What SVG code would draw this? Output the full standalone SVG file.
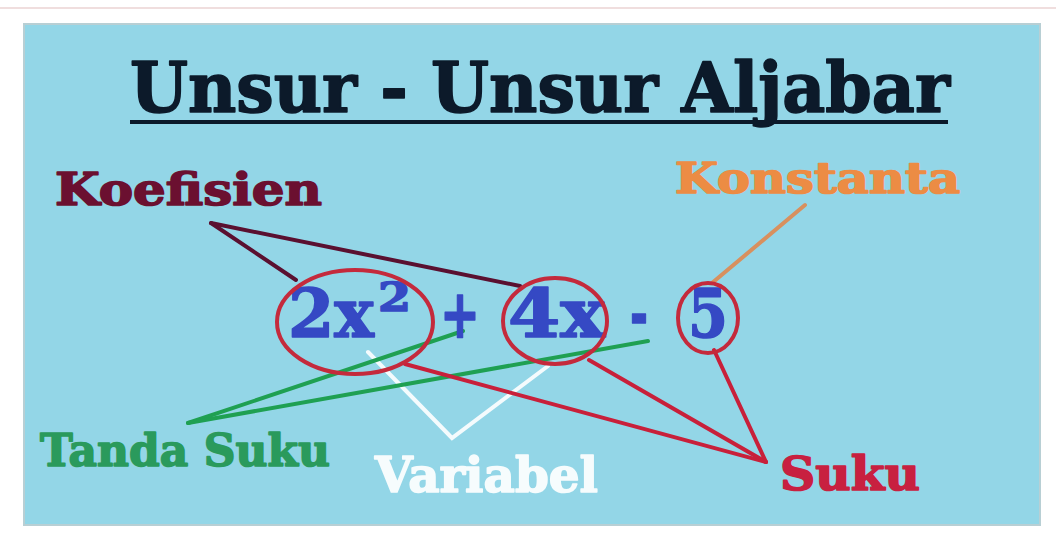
<svg xmlns="http://www.w3.org/2000/svg" width="1056" height="536" viewBox="0 0 1056 536">
  <style>
    .t { font-family: "DejaVu Serif", "Liberation Serif", serif; font-weight: bold; stroke-width: 1.6; stroke-linejoin: round; }
    .eq { fill: #3549c4; stroke: #3549c4; }
    .ring { fill: none; stroke: #c42a3c; stroke-width: 4; }
    .ln { fill: none; stroke-width: 4; stroke-linecap: round; }
  </style>
  <rect x="0" y="0" width="1056" height="536" fill="#ffffff"/>
  <line x1="0" y1="8" x2="1056" y2="8" stroke="#f0dede" stroke-width="2"/>
  <rect x="24" y="24" width="1016" height="501" fill="#93d6e7" stroke="#b8cfd4" stroke-width="2"/>

  <g id="title">
    <text class="t" x="130" y="112" font-size="70" fill="#0c1a2a" stroke="#0c1a2a" textLength="820" lengthAdjust="spacingAndGlyphs">Unsur - Unsur Aljabar</text>
    <rect x="130" y="120" width="818" height="4" fill="#0c1a2a"/>
  </g>

  <g id="connectors">
    <polyline class="ln" points="368,352 452,438 548,366" stroke="#f4fbfd"/>
    <line class="ln" x1="211" y1="223" x2="296" y2="280" stroke="#5a1030"/>
    <line class="ln" x1="211" y1="223" x2="520" y2="286" stroke="#5a1030"/>
    <line class="ln" x1="805" y1="205" x2="712" y2="283" stroke="#d8905e" stroke-width="3"/>
    <line class="ln" x1="188" y1="423" x2="463" y2="331" stroke="#1fa052"/>
    <line class="ln" x1="188" y1="423" x2="648" y2="341" stroke="#1fa052"/>
    <line class="ln" x1="766" y1="462" x2="405" y2="364" stroke="#c8203a"/>
    <line class="ln" x1="766" y1="462" x2="589" y2="360" stroke="#c8203a"/>
    <line class="ln" x1="766" y1="462" x2="714" y2="350" stroke="#c8203a"/>
  </g>

  <g id="equation">
    <text class="t eq" x="288" y="337" font-size="68" textLength="86" lengthAdjust="spacingAndGlyphs">2x</text>
    <text class="t eq" x="378" y="311" font-size="40" textLength="33" lengthAdjust="spacingAndGlyphs">2</text>
    <text class="t eq" x="440" y="337" font-size="68" textLength="40" lengthAdjust="spacingAndGlyphs">+</text>
    <text class="t eq" x="508" y="337" font-size="68" textLength="97" lengthAdjust="spacingAndGlyphs">4x</text>
    <text class="t eq" x="630" y="337" font-size="68" textLength="18" lengthAdjust="spacingAndGlyphs">-</text>
    <text class="t eq" x="688" y="337" font-size="68" textLength="40" lengthAdjust="spacingAndGlyphs">5</text>
  </g>

  <g id="ring-2x2"><ellipse class="ring" cx="355" cy="322" rx="78" ry="52"/></g>
  <g id="ring-4x"><ellipse class="ring" cx="555" cy="321" rx="52" ry="43"/></g>
  <g id="ring-5"><ellipse class="ring" cx="708" cy="318" rx="30" ry="35"/></g>

  <g id="koefisien">
    <text class="t" x="55" y="205" font-size="44" fill="#6b1030" stroke="#6b1030" textLength="267" lengthAdjust="spacingAndGlyphs">Koefisien</text>
  </g>
  <g id="konstanta">
    <text class="t" x="675" y="193" font-size="42" fill="#ec8c44" stroke="#ec8c44" textLength="285" lengthAdjust="spacingAndGlyphs">Konstanta</text>
  </g>
  <g id="tanda-suku">
    <text class="t" x="40" y="466" font-size="44" fill="#2a9a5c" stroke="#2a9a5c" textLength="290" lengthAdjust="spacingAndGlyphs">Tanda Suku</text>
  </g>
  <g id="variabel">
    <text class="t" x="375" y="492" font-size="48" fill="#f6fcfd" stroke="#f6fcfd" textLength="223" lengthAdjust="spacingAndGlyphs">Variabel</text>
  </g>
  <g id="suku">
    <text class="t" x="780" y="490" font-size="46" fill="#c82040" stroke="#c82040" textLength="140" lengthAdjust="spacingAndGlyphs">Suku</text>
  </g>
</svg>
